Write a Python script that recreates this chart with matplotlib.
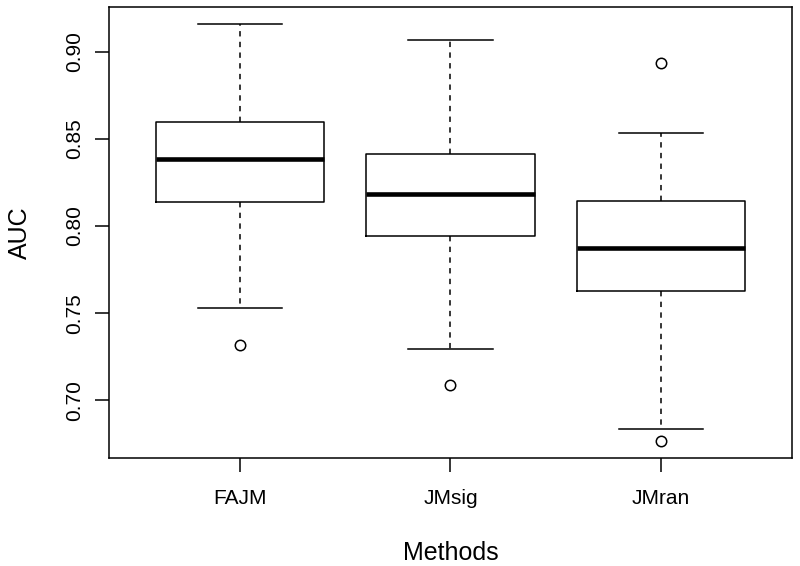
import matplotlib
matplotlib.use("Agg")
import matplotlib.pyplot as plt

plt.rcParams['font.family'] = ['Liberation Sans', 'DejaVu Sans']

# box statistics
methods = ['FAJM', 'JMsig', 'JMran']
whisker_lo = [0.7528, 0.7293, 0.6837]
q1 = [0.8138, 0.7944, 0.7625]
med = [0.8383, 0.8185, 0.7872]
q3 = [0.8595, 0.8415, 0.8142]
whisker_hi = [0.9157, 0.9067, 0.8535]
outliers = [[0.7316], [0.7086], [0.8933, 0.6767]]

stats = []
for i in range(len(methods)):
    stats.append({'label': methods[i], 'whislo': whisker_lo[i], 'q1': q1[i],
                  'med': med[i], 'q3': q3[i], 'whishi': whisker_hi[i],
                  'fliers': outliers[i]})

fig = plt.figure(figsize=(8, 5.66), dpi=100, facecolor='white')
ax = fig.add_axes([0.1366, 0.1903, 0.8530, 0.7968])

lw = 1.1
ax.bxp(stats, positions=[1, 2, 3], widths=0.8, patch_artist=False,
       boxprops=dict(color='black', linewidth=lw),
       medianprops=dict(color='black', linewidth=3.3, solid_capstyle='butt'),
       whiskerprops=dict(color='black', linewidth=lw, linestyle=(0, (3.5, 3.5))),
       capprops=dict(color='black', linewidth=lw),
       capwidths=0.4,
       flierprops=dict(marker='o', markersize=7.5, markerfacecolor='none',
                       markeredgecolor='black', markeredgewidth=lw))

ax.set_xlim(0.38, 3.62)
ax.set_ylim(0.6667, 0.9255)
ax.set_yticks([0.70, 0.75, 0.80, 0.85, 0.90])
ax.set_yticklabels(['0.70', '0.75', '0.80', '0.85', '0.90'], rotation=90, va='center')
ax.set_xticks([1, 2, 3])
ax.set_xticklabels(methods)

ax.tick_params(axis='both', labelsize=15, length=9.8, width=lw, color='black')
ax.tick_params(axis='x', pad=12)
ax.tick_params(axis='y', pad=8)
for s in ax.spines.values():
    s.set_linewidth(lw)

ax.set_xlabel('Methods', fontsize=18, va='center')
ax.xaxis.set_label_coords(0.5, -95 / 451)
ax.set_ylabel('AUC', fontsize=18, va='center', ha='center')
ax.yaxis.set_label_coords(-89.3 / 682.4, 0.5)

plt.savefig('out.png', dpi=100)
